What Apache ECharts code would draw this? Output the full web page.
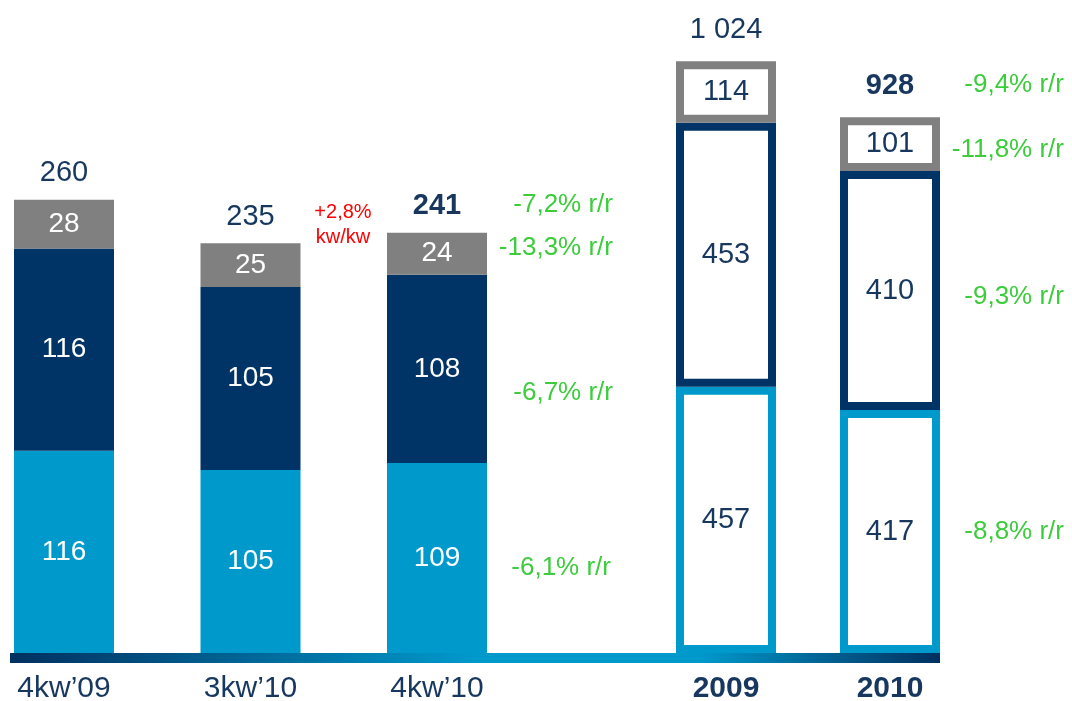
<!DOCTYPE html>
<html>
<head>
<meta charset="utf-8">
<script src="https://cdn.jsdelivr.net/npm/echarts@6/dist/echarts.min.js"></script>
<style>html,body{margin:0;padding:0;background:#fff;}#c{width:1072px;height:701px;}</style>
</head>
<body>
<div id="c"></div>
<script>
// ---- data ----
const quarters = ['4kw\u201909', '3kw\u201910', '4kw\u201910'];
const qLight = [116, 105, 109];
const qDark = [116, 105, 108];
const qGrey = [28, 25, 24];
const qTotal = [260, 235, 241];
const years = ['2009', '2010'];
const yLight = [457, 417];
const yDark = [453, 410];
const yGrey = [114, 101];
const yTotal = [1024, 928];
const qChange = ['+2,8%', 'kw/kw'];
const qYoY = ['-7,2% r/r', '-13,3% r/r', '-6,7% r/r', '-6,1% r/r'];
const yYoY = ['-9,4% r/r', '-11,8% r/r', '-9,3% r/r', '-8,8% r/r'];

// ---- styles ----
const FONT = '"Liberation Sans", Arial, sans-serif';
const NAVY_TXT = '#17375e';
const C_LIGHT = '#0099cc', C_DARK = '#003366', C_GREY = '#808080';
const GREEN = '#3ccc3c', RED = '#ff0000';

const fmtThousands = v => String(v).replace(/\B(?=(\d{3})+(?!\d))/g, ' ');

function qBar(name, data, color) {
  return {
    name, type: 'bar', stack: 'q', xAxisIndex: 0, yAxisIndex: 0, barWidth: 100,
    data, itemStyle: { color },
    label: { show: true, position: 'inside', color: '#fff', fontSize: 28, fontFamily: FONT },
    silent: true
  };
}

function stackRanges(arrs) {
  const base = arrs[0].map(() => 0);
  return arrs.map(a => a.map((v, i) => { const s = base[i]; base[i] += v; return [i, s, base[i]]; }));
}
const yRanges = stackRanges([yLight, yDark, yGrey]);

function yBar(name, data, color, gap) {
  return {
    name, type: 'custom', xAxisIndex: 1, yAxisIndex: 1, data,
    encode: { x: 0, y: [1, 2] }, silent: true,
    renderItem: function (params, api) {
      const i = api.value(0), s = api.value(1), e = api.value(2);
      const p0 = api.coord([i, s]);
      const p1 = api.coord([i, e]);
      const w = 100, lw = 8;
      const top = p1[1] + gap;
      return {
        type: 'rect',
        shape: { x: p0[0] - w / 2 + lw / 2, y: top + lw / 2, width: w - lw, height: p0[1] - top - lw },
        style: { fill: '#fff', stroke: color, lineWidth: lw },
        textContent: { style: { text: String(e - s), fill: NAVY_TXT, fontSize: 29, fontFamily: FONT } },
        textConfig: { position: 'inside' }
      };
    }
  };
}

function totalSeries(data, xi, lastBold) {
  return {
    type: 'bar', xAxisIndex: xi, yAxisIndex: xi, barWidth: 100, barGap: '-100%', silent: true,
    itemStyle: { color: 'rgba(0,0,0,0)' }, z: 1,
    data: data.map((v, i) => ({
      value: v,
      label: { fontWeight: (lastBold && i === data.length - 1) ? 'bold' : 'normal' }
    })),
    label: {
      show: true, position: 'top', distance: 12, color: NAVY_TXT, fontSize: 29, fontFamily: FONT,
      formatter: p => fmtThousands(p.value)
    }
  };
}

const gText = (text, x, y, color, size, align) => ({
  type: 'text', x, y, silent: true, z: 100,
  style: { text, fill: color, font: size + 'px ' + FONT, align, verticalAlign: 'middle' }
});

const qYoYPos = [[613, 205], [613, 248], [613, 393], [611, 568]];
const yYoYPos = [[1064, 85], [1064, 150], [1064, 297], [1064, 532]];

const graphics = [
  {
    type: 'rect', z: 50, silent: true,
    shape: { x: 10, y: 653, width: 930, height: 10 },
    style: {
      fill: {
        type: 'linear', x: 0, y: 0, x2: 1, y2: 0,
        colorStops: [
          { offset: 0, color: '#00305f' },
          { offset: 0.5, color: '#0099cc' },
          { offset: 0.74, color: '#0099cc' },
          { offset: 1, color: '#00305f' }
        ]
      }
    }
  },
  gText(qChange[0], 343, 212, RED, 20, 'center'),
  gText(qChange[1], 343, 237, RED, 20, 'center')
];
qYoY.forEach((t, i) => graphics.push(gText(t, qYoYPos[i][0], qYoYPos[i][1], GREEN, 26, 'right')));
yYoY.forEach((t, i) => graphics.push(gText(t, yYoYPos[i][0], yYoYPos[i][1], GREEN, 26, 'right')));

const option = {
  backgroundColor: '#fff',
  animation: false,
  grid: [
    { left: 64, width: 373, top: 130, bottom: 48, containLabel: false, outerBoundsMode: 'none' },
    { left: 726, width: 164, top: 12, bottom: 48, containLabel: false, outerBoundsMode: 'none' }
  ],
  xAxis: [
    {
      type: 'category', gridIndex: 0, data: quarters, boundaryGap: false,
      axisLine: { show: false }, axisTick: { show: false },
      axisLabel: { color: NAVY_TXT, fontSize: 30, fontFamily: FONT, margin: 21 }
    },
    {
      type: 'category', gridIndex: 1, data: years, boundaryGap: false,
      axisLine: { show: false }, axisTick: { show: false },
      axisLabel: { color: NAVY_TXT, fontSize: 30, fontWeight: 'bold', fontFamily: FONT, margin: 21 }
    }
  ],
  yAxis: [
    { type: 'value', gridIndex: 0, min: 0, max: 300, show: false, splitLine: { show: false } },
    { type: 'value', gridIndex: 1, min: 0, max: 1100, show: false, splitLine: { show: false } }
  ],
  series: [
    qBar('light', qLight, C_LIGHT),
    qBar('dark', qDark, C_DARK),
    qBar('grey', qGrey, C_GREY),
    totalSeries(qTotal, 0, true),
    yBar('light', yRanges[0], C_LIGHT, 0),
    yBar('dark', yRanges[1], C_DARK, 0),
    yBar('grey', yRanges[2], C_GREY, 5),
    totalSeries(yTotal, 1, true)
  ],
  graphic: graphics
};

const chart = echarts.init(document.getElementById('c'), null, { renderer: 'canvas' });
chart.setOption(option);
</script>
</body>
</html>
